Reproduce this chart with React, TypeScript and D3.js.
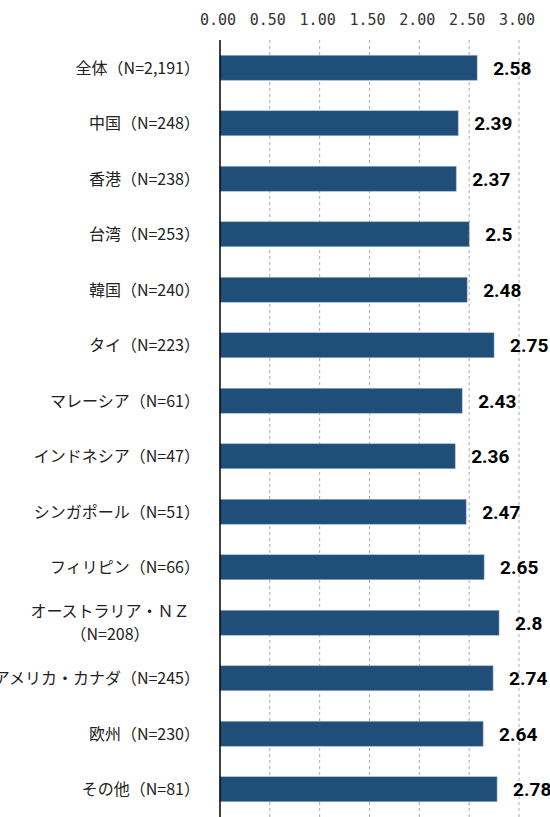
import React, { useEffect, useRef } from 'react';
import * as d3 from 'd3';

// カテゴリと値
const categories = [
  ['全体（N=2,191）'],
  ['中国（N=248）'],
  ['香港（N=238）'],
  ['台湾（N=253）'],
  ['韓国（N=240）'],
  ['タイ（N=223）'],
  ['マレーシア（N=61）'],
  ['インドネシア（N=47）'],
  ['シンガポール（N=51）'],
  ['フィリピン（N=66）'],
  ['オーストラリア・ＮＺ', '（N=208）'],
  ['アメリカ・カナダ（N=245）'],
  ['欧州（N=230）'],
  ['その他（N=81）'],
];
const values = [2.58, 2.39, 2.37, 2.5, 2.48, 2.75, 2.43, 2.36, 2.47, 2.65, 2.8, 2.74, 2.64, 2.78];
const tickValues = [0, 0.5, 1, 1.5, 2, 2.5, 3];

const W = 550;
const H = 817;

export default function App() {
  const ref = useRef<SVGSVGElement>(null);

  useEffect(() => {
    const svg = d3.select(ref.current);
    svg.selectAll('*').remove();

    const left = 220;
    const top = 40;
    const x = d3.scaleLinear().domain([0, 3]).range([left, left + 299]);
    const y = d3
      .scaleBand<number>()
      .domain(d3.range(values.length))
      .range([top, H])
      .paddingInner(0.55)
      .paddingOuter(0.275);

    // グリッド線
    svg.append('g')
      .selectAll('line')
      .data(tickValues.slice(1))
      .enter()
      .append('line')
      .attr('x1', (d) => x(d))
      .attr('x2', (d) => x(d))
      .attr('y1', top)
      .attr('y2', H)
      .attr('stroke', '#aaa')
      .attr('stroke-width', 1)
      .attr('stroke-dasharray', '3,3');

    // 目盛りラベル
    svg.append('g')
      .selectAll('text')
      .data(tickValues)
      .enter()
      .append('text')
      .attr('x', (d) => x(d) - 2)
      .attr('y', 25)
      .attr('text-anchor', 'middle')
      .attr('font-family', 'DejaVu Sans Mono, monospace')
      .attr('font-size', 15)
      .attr('fill', '#333')
      .text((d) => d3.format('.2f')(d));

    // 棒
    svg.append('g')
      .selectAll('rect')
      .data(values)
      .enter()
      .append('rect')
      .attr('x', x(0))
      .attr('y', (d, i) => y(i)!)
      .attr('width', (d) => x(d) - x(0))
      .attr('height', y.bandwidth())
      .attr('fill', '#1F4E79')
      .attr('stroke', '#9db3cc')
      .attr('stroke-width', 0.6);

    // 値ラベル
    svg.append('g')
      .selectAll('text')
      .data(values)
      .enter()
      .append('text')
      .attr('x', (d) => x(d) + 16)
      .attr('y', (d, i) => y(i)! + y.bandwidth() / 2 + 7)
      .attr('font-family', '"Liberation Sans Narrow", Roboto, sans-serif')
      .attr('font-weight', 'bold')
      .attr('font-size', 19)
      .attr('fill', '#000')
      .text((d) => String(d));

    // カテゴリラベル
    const labels = svg.append('g')
      .selectAll('text')
      .data(categories)
      .enter()
      .append('text')
      .attr('text-anchor', (d) => (d.length > 1 ? 'middle' : 'end'))
      .attr('font-family', '"Noto Sans CJK JP", sans-serif')
      .attr('font-size', 16)
      .attr('fill', '#222')
      .attr('transform', (d, i) => {
        const cy = y(i)! + y.bandwidth() / 2;
        if (d.length > 1) return `translate(110,${cy - 6})`;
        return `translate(200,${cy + 6})`;
      });
    labels.each(function (d) {
      const t = d3.select(this);
      d.forEach((line, j) => {
        t.append('tspan')
          .attr('x', 0)
          .attr('dy', j === 0 ? 0 : 23)
          .text(line);
      });
    });

    // 軸線
    svg.append('line')
      .attr('x1', x(0))
      .attr('x2', x(0))
      .attr('y1', top)
      .attr('y2', H)
      .attr('stroke', '#000')
      .attr('stroke-width', 1.5);
  }, []);

  return (
    <svg
      ref={ref}
      width={W}
      height={H}
      style={{ position: 'absolute', left: 0, top: 0, background: '#fff' }}
    />
  );
}
